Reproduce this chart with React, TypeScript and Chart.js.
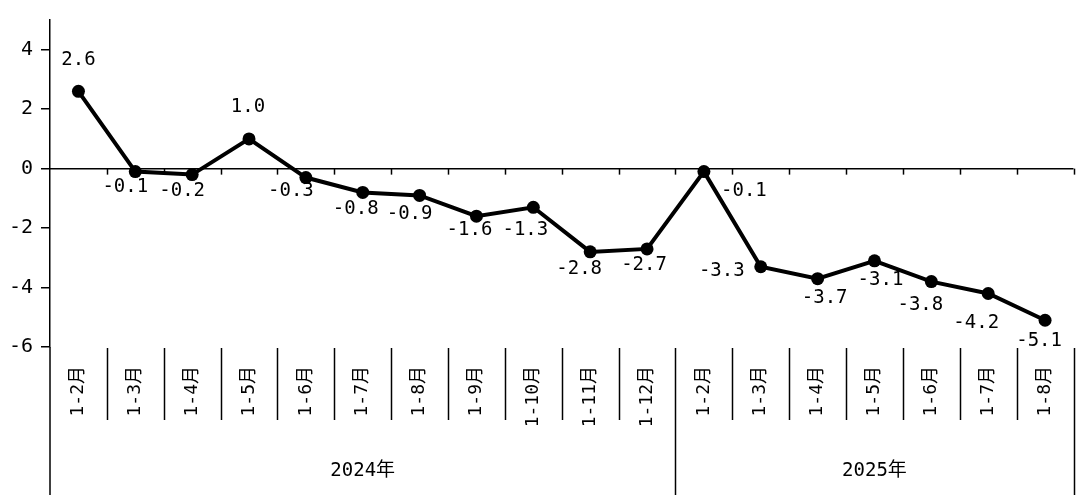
import React, { useEffect, useRef } from "react";
import { Chart, registerables } from "chart.js";

Chart.register(...registerables);

const categories = [
  "1-2月", "1-3月", "1-4月", "1-5月", "1-6月", "1-7月", "1-8月", "1-9月", "1-10月", "1-11月", "1-12月",
  "1-2月", "1-3月", "1-4月", "1-5月", "1-6月", "1-7月", "1-8月",
];
const values = [2.6, -0.1, -0.2, 1.0, -0.3, -0.8, -0.9, -1.6, -1.3, -2.8, -2.7, -0.1, -3.3, -3.7, -3.1, -3.8, -4.2, -5.1];
const valueLabels = ["2.6", "-0.1", "-0.2", "1.0", "-0.3", "-0.8", "-0.9", "-1.6", "-1.3", "-2.8", "-2.7", "-0.1", "-3.3", "-3.7", "-3.1", "-3.8", "-4.2", "-5.1"];
const years = ["2024年", "2025年"];
const yearCounts = [11, 7];
const yTicks = [-6, -4, -2, 0, 2, 4];

// label offsets relative to point (styling)
const labelOffsets: [number, number][] = [
  [0, -31], [-10, 15], [-10, 16], [-1, -32], [-15, 14], [-7, 17], [-10, 19], [-7, 14], [-8, 23],
  [-11, 17], [-3, 16], [40, 19], [-39, 4], [7, 19], [6, 19], [-11, 23], [-12, 30], [-6, 21],
];

const MONO = '"DejaVu Sans Mono", "Noto Sans CJK SC", monospace';

const decorPlugin = {
  id: "decor",
  afterDatasetsDraw(chart: any) {
    const ctx = chart.ctx;
    const area = chart.chartArea;
    const x = chart.scales.x;
    const y = chart.scales.y;
    const n = categories.length;
    const step = (area.right - area.left) / n;
    const y0 = y.getPixelForValue(0);
    const bottom = chart.height - 4;
    ctx.save();
    ctx.strokeStyle = "#000";
    ctx.lineWidth = 1.5;
    ctx.beginPath();
    ctx.moveTo(area.left, y0);
    ctx.lineTo(area.right, y0);
    ctx.stroke();
    for (let i = 1; i <= n; i++) {
      const bx = Math.round(area.left + step * i) + 0.5;
      ctx.beginPath();
      ctx.moveTo(bx, y0);
      ctx.lineTo(bx, y0 + 6);
      ctx.stroke();
    }
    ctx.beginPath();
    ctx.moveTo(area.left, area.bottom);
    ctx.lineTo(area.left, bottom);
    ctx.stroke();
    const yearBoundaries: number[] = [];
    let acc = 0;
    yearCounts.forEach((c) => {
      acc += c;
      yearBoundaries.push(acc);
    });
    for (let i = 1; i <= n; i++) {
      const bx = Math.round(area.left + step * i) + 0.5;
      const isYear = yearBoundaries.includes(i);
      ctx.beginPath();
      ctx.moveTo(bx, area.bottom + 1);
      ctx.lineTo(bx, isYear ? bottom : area.bottom + 73);
      ctx.stroke();
    }
    ctx.fillStyle = "#000";
    ctx.font = `18px ${MONO}`;
    ctx.textAlign = "right";
    ctx.textBaseline = "middle";
    for (let i = 0; i < n; i++) {
      const cx = x.getPixelForValue(i);
      ctx.save();
      ctx.translate(cx, area.bottom + 19);
      ctx.rotate(-Math.PI / 2);
      ctx.fillText(categories[i], 0, 0);
      ctx.restore();
    }
    ctx.font = `19px ${MONO}`;
    ctx.textAlign = "center";
    let start = 0;
    years.forEach((yr, k) => {
      const end = start + yearCounts[k];
      const cx = area.left + step * (start + end) / 2;
      ctx.fillText(yr, cx, area.bottom + 124);
      start = end;
    });
    ctx.font = `19px ${MONO}`;
    ctx.textAlign = "center";
    ctx.textBaseline = "middle";
    const meta = chart.getDatasetMeta(0);
    meta.data.forEach((pt: any, i: number) => {
      const [dx, dy] = labelOffsets[i];
      ctx.fillText(valueLabels[i], pt.x + dx, pt.y + dy);
    });
    ctx.restore();
  },
};

export default function App() {
  const ref = useRef<HTMLCanvasElement>(null);
  useEffect(() => {
    document.body.style.margin = "0";
    const chart = new Chart(ref.current!, {
      type: "line",
      data: {
        labels: categories.map((_, i) => String(i)),
        datasets: [
          {
            data: values,
            borderColor: "#000",
            borderWidth: 4,
            pointRadius: 6.5,
            pointBackgroundColor: "#000",
            pointBorderColor: "#000",
            pointBorderWidth: 0,
            tension: 0,
          },
        ],
      },
      options: {
        animation: false,
        responsive: false,
        devicePixelRatio: 1,
        layout: { padding: { top: 18, right: 3, bottom: 152, left: 0 } },
        plugins: { legend: { display: false }, tooltip: { enabled: false } },
        scales: {
          x: { type: "category", offset: true, display: false },
          y: {
            min: -6,
            max: 5,
            afterBuildTicks: (axis: any) => {
              axis.ticks = yTicks.map((v) => ({ value: v }));
            },
            afterFit: (axis: any) => {
              axis.width = 50;
            },
            border: { display: true, color: "#000", width: 1.5 },
            grid: { drawOnChartArea: false, color: "#000", lineWidth: 1.5, tickLength: 9 },
            ticks: {
              color: "#000",
              padding: 8,
              font: { family: MONO, size: 20 },
              callback: (v: any) => String(v),
            },
          },
        },
      },
      plugins: [decorPlugin],
    });
    return () => chart.destroy();
  }, []);
  return (
    <div style={{ width: 1080, height: 499, background: "#fff" }}>
      <canvas ref={ref} width={1080} height={499} style={{ display: "block" }} />
    </div>
  );
}
